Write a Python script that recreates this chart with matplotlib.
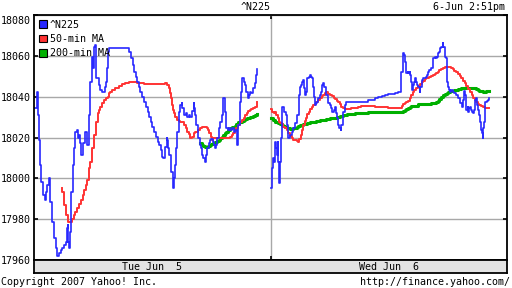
import numpy as np
import matplotlib
matplotlib.use("Agg")
import matplotlib.pyplot as plt
import matplotlib.transforms as mtransforms
from matplotlib.patches import Patch

# x = minutes after 9:00 on the chart's time axis (Tue 0-360, Wed 360-720)
n225_tue = [
    (0, 18034.3), (4, 18042.1), (6, 18031.0), (8, 18018.8), (9, 18006.5), (11, 17998.4),
    (14, 17991.8), (16, 17989.4), (18, 17993.5), (20, 17996.7), (23, 18000.0), (24, 17995.1),
    (25, 17988.6), (28, 17978.8), (30, 17970.6), (33, 17965.7), (35, 17962.1), (38, 17963.3),
    (41, 17964.9), (43, 17965.7), (46, 17967.3), (48, 17969.0), (50, 17975.5), (51, 17977.1),
    (52, 17969.0), (53, 17965.7), (55, 17973.9), (56, 17983.7), (57, 17993.5), (59, 18006.5),
    (61, 18014.7), (63, 18022.9), (65, 18023.7), (67, 18019.6), (68, 18021.2), (70, 18017.1),
    (72, 18011.4), (75, 18017.1), (77, 18022.9), (79, 18022.9), (81, 18016.3), (83, 18021.2),
    (84, 18031.0), (85, 18037.6), (86, 18047.3), (88, 18057.1), (89, 18059.6), (90, 18053.9),
    (91, 18064.5), (93, 18065.3), (95, 18049.0), (99, 18045.7), (101, 18043.3), (104, 18042.4),
    (105, 18042.1), (108, 18044.9), (109, 18047.3), (111, 18053.9), (112, 18058.8), (113, 18062.0),
    (114, 18063.7), (143, 18063.7), (145, 18062.0), (147, 18058.8), (150, 18055.5), (152, 18052.2),
    (155, 18049.8), (157, 18047.3), (160, 18044.9), (162, 18042.4), (165, 18040.0), (167, 18037.5),
    (170, 18035.1), (173, 18032.7), (175, 18030.2), (178, 18027.8), (180, 18025.3), (183, 18022.9),
    (185, 18020.4), (188, 18018.0), (190, 18016.3), (193, 18013.9), (195, 18010.6), (197, 18009.8),
    (199, 18012.2), (200, 18015.5), (202, 18019.6), (203, 18018.8), (204, 18014.7), (206, 18011.4),
    (208, 18008.2), (209, 18003.3), (211, 17998.4), (212, 17995.1), (213, 18000.0), (215, 18006.5),
    (216, 18014.7), (218, 18022.9), (220, 18027.8), (221, 18032.7), (223, 18035.9), (225, 18036.7),
    (226, 18034.3), (228, 18031.0), (231, 18031.8), (233, 18030.2), (236, 18031.0), (238, 18030.2),
    (240, 18033.0), (243, 18036.7), (244, 18034.3), (245, 18031.0), (247, 18026.1), (249, 18019.6),
    (252, 18016.3), (254, 18014.7), (256, 18011.4), (258, 18009.8), (260, 18008.2), (262, 18011.4),
    (264, 18014.7), (266, 18017.1), (268, 18018.8), (270, 18019.3), (273, 18018.0), (274, 18016.3),
    (276, 18014.7), (277, 18016.3), (279, 18019.6), (281, 18024.5), (283, 18027.8), (286, 18031.0),
    (288, 18039.2), (290, 18039.5), (291, 18032.7), (293, 18024.5), (296, 18023.7), (297, 18024.5),
    (299, 18023.7), (302, 18024.5), (304, 18022.9), (306, 18023.7), (309, 18016.3), (310, 18026.1),
    (313, 18031.0), (314, 18037.5), (315, 18042.4), (316, 18049.0), (319, 18047.3), (321, 18045.7),
    (323, 18042.4), (325, 18039.2), (327, 18040.8), (329, 18042.4), (331, 18041.6), (334, 18044.1),
    (336, 18046.5), (338, 18050.6), (339, 18052.2), (340, 18053.6),
]
n225_wed = [
    (361, 17995.1), (362, 18004.9), (364, 18009.8), (366, 18008.2), (367, 18018.0), (369, 18014.7),
    (370, 18011.4), (371, 18018.0), (372, 18008.2), (373, 17997.5), (374, 18008.2), (376, 18019.6),
    (377, 18032.7), (378, 18035.1), (380, 18032.7), (383, 18031.0), (385, 18026.1), (386, 18019.6),
    (388, 18019.9), (390, 18021.2), (392, 18022.9), (395, 18024.5), (397, 18026.9), (400, 18029.4),
    (401, 18031.0), (403, 18034.3), (404, 18040.8), (405, 18044.9), (407, 18045.7), (408, 18047.3),
    (410, 18048.2), (411, 18044.1), (412, 18040.8), (414, 18042.4), (415, 18047.3), (416, 18049.0),
    (418, 18049.8), (420, 18050.6), (422, 18049.8), (423, 18049.0), (424, 18047.3), (425, 18044.9),
    (426, 18040.0), (428, 18035.9), (429, 18036.7), (431, 18037.5), (433, 18039.2), (435, 18040.8),
    (437, 18042.4), (438, 18045.7), (440, 18046.5), (442, 18044.9), (444, 18042.4), (445, 18040.8),
    (447, 18038.4), (448, 18036.7), (450, 18035.9), (452, 18034.3), (454, 18032.7), (456, 18033.5),
    (458, 18035.1), (459, 18031.8), (461, 18029.4), (463, 18026.1), (465, 18024.5), (467, 18023.7),
    (468, 18026.1), (470, 18030.2), (471, 18032.7), (473, 18035.9), (475, 18037.2), (498, 18037.2),
    (503, 18037.6), (508, 18038.2), (513, 18038.5), (519, 18039.2), (524, 18039.7), (529, 18040.3),
    (534, 18040.8), (539, 18041.1), (544, 18041.5), (549, 18042.0), (554, 18042.1), (557, 18042.4),
    (558, 18047.3), (559, 18052.2), (561, 18057.1), (562, 18061.6), (563, 18060.4), (564, 18057.1),
    (566, 18054.7), (567, 18051.4), (569, 18052.2), (570, 18051.4), (572, 18052.2), (573, 18050.6),
    (574, 18047.3), (576, 18043.3), (577, 18045.7), (579, 18047.3), (580, 18049.0), (582, 18047.3),
    (583, 18045.7), (585, 18044.9), (587, 18042.4), (588, 18044.9), (590, 18048.2), (592, 18049.0),
    (594, 18049.3), (596, 18049.8), (598, 18050.6), (600, 18052.2), (602, 18053.1), (605, 18053.9),
    (607, 18055.5), (608, 18058.8), (610, 18059.6), (612, 18059.1), (614, 18059.6), (615, 18061.2),
    (617, 18062.0), (618, 18063.7), (620, 18064.5), (622, 18066.1), (623, 18064.5), (625, 18062.0),
    (626, 18059.6), (627, 18058.8), (628, 18052.2), (629, 18047.3), (630, 18044.9), (632, 18043.3),
    (633, 18042.4), (635, 18043.3), (638, 18042.4), (640, 18041.6), (643, 18040.8), (645, 18039.5),
    (648, 18037.9), (649, 18036.7), (651, 18035.1), (653, 18038.4), (655, 18042.8), (656, 18040.8),
    (657, 18035.1), (658, 18033.5), (660, 18035.1), (661, 18032.7), (662, 18034.3), (664, 18035.1),
    (665, 18033.5), (667, 18032.7), (668, 18031.8), (670, 18033.5), (671, 18035.9), (672, 18038.4),
    (673, 18039.5), (675, 18035.9), (676, 18033.5), (677, 18031.0), (679, 18027.8), (680, 18023.7),
    (682, 18022.0), (683, 18019.6), (684, 18024.5), (685, 18027.8), (686, 18032.7), (687, 18037.5),
    (689, 18037.9), (691, 18038.4), (693, 18039.5),
]

ma50_tue = [
    (42, 17995.4), (43, 17993.5), (45, 17990.2), (46, 17986.9), (48, 17984.5), (49, 17982.0),
    (51, 17979.6), (52, 17978.8), (54, 17978.4), (56, 17978.8), (58, 17980.1), (61, 17982.0),
    (63, 17983.7), (66, 17985.3), (68, 17987.3), (71, 17989.4), (74, 17991.8), (76, 17994.3),
    (79, 17996.7), (81, 17999.2), (83, 18001.6), (84, 18004.9), (86, 18008.2), (88, 18011.4),
    (89, 18014.7), (91, 18018.0), (92, 18021.2), (94, 18023.7), (95, 18027.8), (97, 18031.8),
    (99, 18033.5), (101, 18035.1), (104, 18036.7), (107, 18038.4), (109, 18039.2), (112, 18040.0),
    (114, 18041.6), (116, 18042.4), (119, 18043.3), (124, 18044.4), (129, 18045.4), (134, 18046.0),
    (139, 18046.9), (145, 18047.3), (150, 18047.0), (157, 18046.7), (167, 18046.4), (178, 18046.2),
    (188, 18046.0), (198, 18046.0), (200, 18046.5), (203, 18045.7), (205, 18044.1), (207, 18041.6),
    (208, 18039.2), (210, 18035.9), (211, 18033.5), (213, 18031.8), (215, 18030.2), (218, 18028.6),
    (221, 18028.1), (223, 18027.8), (226, 18027.4), (228, 18026.1), (231, 18024.5), (233, 18022.9),
    (236, 18021.5), (238, 18019.9), (240, 18020.4), (243, 18022.0), (245, 18022.5), (248, 18022.9),
    (250, 18023.7), (253, 18024.5), (255, 18025.1), (258, 18025.3), (260, 18025.3), (263, 18024.5),
    (265, 18023.7), (267, 18022.0), (269, 18020.4), (271, 18018.8), (273, 18019.6), (276, 18019.9),
    (288, 18019.9), (293, 18019.6), (296, 18019.9), (298, 18020.4), (301, 18021.2), (303, 18022.0),
    (306, 18023.2), (308, 18024.5), (311, 18026.1), (314, 18027.4), (316, 18028.6), (319, 18029.4),
    (321, 18031.0), (324, 18032.2), (326, 18033.0), (329, 18033.5), (331, 18033.8), (334, 18034.3),
    (336, 18035.1), (339, 18035.9), (340, 18037.2),
]
ma50_wed = [
    (361, 18033.8), (363, 18032.7), (365, 18032.2), (367, 18032.3), (369, 18031.0), (371, 18029.4),
    (373, 18027.8), (375, 18026.9), (377, 18026.4), (379, 18025.3), (382, 18024.5), (385, 18023.7),
    (387, 18022.0), (390, 18020.9), (392, 18019.6), (395, 18018.8), (397, 18018.8), (400, 18018.3),
    (402, 18018.0), (404, 18019.3), (406, 18021.2), (408, 18023.7), (410, 18026.1), (412, 18028.1),
    (414, 18029.4), (416, 18031.3), (418, 18032.7), (420, 18033.8), (423, 18035.1), (425, 18035.9),
    (428, 18036.2), (430, 18037.2), (433, 18038.4), (435, 18039.5), (438, 18040.3), (440, 18040.8),
    (443, 18041.6), (445, 18042.1), (448, 18041.5), (450, 18040.8), (453, 18040.3), (456, 18039.5),
    (458, 18038.9), (461, 18037.9), (463, 18037.2), (466, 18036.2), (468, 18035.1), (471, 18034.3),
    (473, 18033.8), (481, 18033.8), (483, 18034.3), (493, 18034.9), (498, 18035.3), (508, 18035.3),
    (519, 18035.1), (529, 18034.9), (539, 18034.6), (558, 18034.6), (560, 18035.6), (562, 18036.2),
    (564, 18036.7), (567, 18037.2), (569, 18037.9), (572, 18039.5), (574, 18040.8), (577, 18042.1),
    (579, 18043.3), (582, 18044.4), (584, 18045.4), (587, 18046.2), (590, 18047.3), (592, 18047.8),
    (595, 18048.7), (597, 18049.0), (600, 18049.3), (602, 18049.8), (605, 18050.1), (607, 18050.6),
    (610, 18051.1), (612, 18051.6), (615, 18052.2), (617, 18053.1), (620, 18053.6), (623, 18053.9),
    (625, 18054.4), (628, 18054.7), (630, 18054.7), (633, 18054.4), (635, 18053.9), (638, 18053.4),
    (640, 18052.7), (643, 18051.9), (645, 18050.9), (648, 18050.1), (650, 18049.0), (653, 18047.8),
    (656, 18046.5), (658, 18045.2), (661, 18043.8), (663, 18042.1), (666, 18040.8), (668, 18039.5),
    (671, 18038.4), (673, 18037.2), (676, 18036.4), (678, 18035.9), (681, 18035.4), (683, 18034.8),
    (686, 18034.6), (693, 18034.6),
]

ma200_tue = [
    (253, 18017.1), (255, 18016.3), (258, 18016.0), (260, 18015.5), (263, 18015.5), (265, 18016.0),
    (268, 18016.3), (270, 18016.7), (273, 18017.1), (276, 18017.6), (278, 18018.3), (281, 18018.8),
    (283, 18019.6), (286, 18020.4), (288, 18021.2), (291, 18022.0), (293, 18022.9), (296, 18023.7),
    (298, 18024.5), (301, 18025.0), (303, 18025.3), (306, 18025.6), (308, 18026.4), (311, 18027.4),
    (314, 18027.8), (316, 18028.1), (319, 18028.6), (321, 18029.1), (324, 18029.4), (326, 18029.7),
    (329, 18030.0), (331, 18030.2), (334, 18030.5), (336, 18031.0), (339, 18031.3), (340, 18031.7),
]
ma200_wed = [
    (361, 18029.4), (364, 18028.6), (367, 18027.8), (369, 18027.4), (372, 18026.9), (374, 18026.6),
    (377, 18026.1), (379, 18025.6), (382, 18025.3), (385, 18024.8), (387, 18024.5), (390, 18024.2),
    (392, 18024.2), (395, 18024.5), (397, 18024.8), (400, 18025.3), (402, 18025.8), (405, 18026.1),
    (410, 18026.6), (415, 18026.9), (420, 18027.4), (425, 18027.8), (430, 18028.1), (435, 18028.4),
    (440, 18028.6), (445, 18028.9), (450, 18029.4), (456, 18029.7), (461, 18030.2), (466, 18030.7),
    (471, 18031.0), (476, 18031.3), (481, 18031.5), (488, 18032.0), (498, 18032.2), (508, 18032.3),
    (519, 18032.5), (529, 18032.7), (559, 18032.7), (562, 18033.0), (564, 18033.5), (567, 18034.0),
    (569, 18034.6), (572, 18034.9), (574, 18035.3), (579, 18035.6), (584, 18036.2), (600, 18036.4),
    (605, 18036.7), (610, 18037.1), (612, 18037.2), (615, 18037.9), (617, 18038.9), (620, 18040.0),
    (623, 18040.8), (625, 18041.3), (628, 18041.8), (630, 18042.4), (633, 18042.8), (635, 18042.9),
    (640, 18043.3), (645, 18043.8), (650, 18044.1), (656, 18044.4), (666, 18044.4), (668, 18044.2),
    (671, 18044.1), (673, 18043.9), (676, 18043.4), (678, 18042.9), (681, 18042.6), (683, 18042.4),
    (686, 18042.4), (688, 18042.6), (693, 18042.8),
]

y_ticks = [17960, 17980, 18000, 18020, 18040, 18060, 18080]
day_labels = ["Tue Jun  5", "Wed Jun  6"]
series_names = ["^N225", "50-min MA", "200-min MA"]
colors = ["#2828ff", "#ff3333", "#00b000"]

mono = "DejaVu Sans Mono"
fs = 7.2

fig = plt.figure(figsize=(5.12, 2.88), dpi=100)
ax = fig.add_axes([34 / 512, 1 - 260 / 288, 473 / 512, 245 / 288])

for seg in (ma200_tue, ma200_wed):
    d = np.array(seg)
    ax.plot(d[:, 0], d[:, 1], color=colors[2], lw=2.2, drawstyle="steps-post")
for seg in (ma50_tue, ma50_wed):
    d = np.array(seg)
    ax.plot(d[:, 0], d[:, 1], color=colors[1], lw=1.4, drawstyle="steps-post")
for seg in (n225_tue, n225_wed):
    d = np.array(seg)
    ax.plot(d[:, 0], d[:, 1], color=colors[0], lw=1.2, drawstyle="steps-post")

ax.set_xlim(0, 720)
ax.set_ylim(17960, 18080)
ax.set_yticks(y_ticks)
ax.set_yticklabels([str(v) for v in y_ticks], family=mono, fontsize=fs)
ax.set_xticks([360])
ax.set_xticklabels([])
ax.grid(True, color="#a8a8a8", lw=1)
ax.set_axisbelow(True)
ax.tick_params(axis="both", direction="in", length=3, width=1.2, pad=2,
               right=True, top=True, colors="black")
for sp in ax.spines.values():
    sp.set_linewidth(1.3)

# the top label sits a little below its tick, as in the original
top_lab = ax.get_yticklabels()[-1]
top_lab.set_transform(top_lab.get_transform() +
                      mtransforms.ScaledTranslation(0, -5 / 100, fig.dpi_scale_trans))

handles = [Patch(facecolor=c, edgecolor="black", lw=0.8) for c in colors]
ax.legend(handles, series_names, loc="upper left", frameon=False,
          prop={"family": mono, "size": fs}, handlelength=0.8, handleheight=0.8,
          handletextpad=0.3, labelspacing=0.45, borderaxespad=0.2, borderpad=0.25)

# grey date band under the plot
band = fig.add_axes([34 / 512, 1 - 273 / 288, 473 / 512, 13 / 288], facecolor="#e3e3e3")
band.set_xlim(0, 720)
band.set_ylim(0, 1)
band.set_xticks([])
band.set_yticks([])
for sp in band.spines.values():
    sp.set_linewidth(1.3)
for i, lab in enumerate(day_labels):
    band.text(180 + 360 * i, 0.45, lab, ha="center", va="center", family=mono, fontsize=fs)

fig.text(0.5, 1 - 7.5 / 288, "^N225", ha="center", va="center", family=mono, fontsize=fs)
fig.text(505 / 512, 1 - 7.5 / 288, "6-Jun 2:51pm", ha="right", va="center", family=mono, fontsize=fs)
fig.text(1 / 512, 1 - 282 / 288, "Copyright 2007 Yahoo! Inc.", ha="left", va="center",
         family=mono, fontsize=fs)
fig.text(510 / 512, 1 - 282 / 288, "http://finance.yahoo.com/", ha="right", va="center",
         family=mono, fontsize=fs)

fig.savefig("out.png", dpi=100)
